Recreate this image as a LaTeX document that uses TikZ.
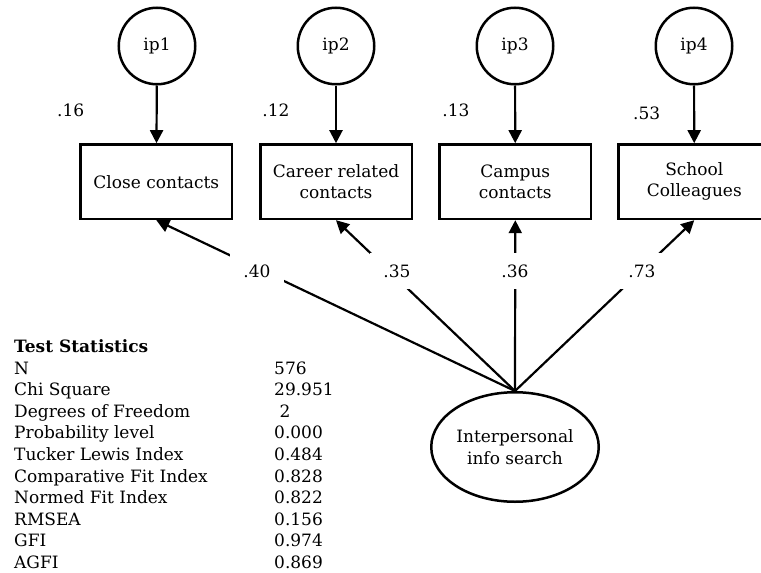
\documentclass[tikz,border=0pt]{standalone}
\usepackage{fontspec}
\setmainfont{DejaVu Serif}
\usetikzlibrary{arrows.meta,shapes.geometric,backgrounds}
\begin{document}
\begin{tikzpicture}[x=1pt,y=-1pt,
  font=\fontsize{17}{21.4}\selectfont,
  every node/.style={inner sep=0pt},
  err/.style={circle,draw,fill=white,line width=2.5pt,minimum size=76.5pt},
  obs/.style={rectangle,draw,fill=white,line width=2.5pt,minimum width=151.5pt,minimum height=74.5pt,align=center},
  latent/.style={ellipse,draw,fill=white,line width=2.5pt,minimum width=167.5pt,minimum height=109.5pt,align=center},
  link/.style={line width=2.2pt,-{Triangle[length=13pt,width=13pt]}},
  coef/.style={fill=white,minimum width=54pt,minimum height=36pt},
  stat/.style={anchor=base west},
]
\useasboundingbox (0,0) rectangle (761,573);

% error terms
\node[err] (ip1) at (157,46) {ip1};
\node[err] (ip2) at (336,46) {ip2};
\node[err] (ip3) at (515,46) {ip3};
\node[err] (ip4) at (694,46) {ip4};

% observed indicators
\node[obs] (b1) at (156.3,181.7) {Close contacts};
\node[obs] (b2) at (336,181.7) {Career related\\contacts};
\node[obs] (b3) at (515.3,181.7) {Campus\\contacts};
\node[obs] (b4) at (694.3,181.7) {School\\Colleagues};

% latent factor
\node[latent] (f) at (515,447) {Interpersonal\\info search};

% squared multiple correlations
\node[anchor=base] (r1) at (70.7,116) {.16};
\node[anchor=base] (r2) at (276,116) {.12};
\node[anchor=base] (r3) at (456,116) {.13};
\node[anchor=base] (r4) at (646.7,119) {.53};

% paths
\begin{scope}[on background layer]
  \draw[link] (ip1) -- (b1);
  \draw[link] (ip2) -- (b2);
  \draw[link] (ip3) -- (b3);
  \draw[link] (ip4) -- (b4);
  \draw[link] (f.north) -- (b1.south);
  \draw[link] (f.north) -- (b2.south);
  \draw[link] (f.north) -- (b3.south);
  \draw[link] (f.north) -- (b4.south);
\end{scope}

% standardized loadings
\node[coef] (l1) at (257,271) {.40};
\node[coef] (l2) at (397,271) {.35};
\node[coef] (l3) at (515,271) {.36};
\node[coef] (l4) at (642,271) {.73};

% fit statistics
\node[stat] (title) at (14,352.5) {\bfseries Test Statistics};
\foreach \lab/\val [count=\i from 0] in {
  N/576,
  Chi Square/29.951,
  Degrees of Freedom/{\ 2},
  Probability level/0.000,
  Tucker Lewis Index/0.484,
  Comparative Fit Index/0.828,
  Normed Fit Index/0.822,
  RMSEA/0.156,
  GFI/0.974,
  AGFI/0.869} {
  \node[stat] (s\i) at (14,{374+21.6*\i}) {\lab};
  \node[stat] (v\i) at (274,{374+21.6*\i}) {\val};
}
\end{tikzpicture}
\end{document}
